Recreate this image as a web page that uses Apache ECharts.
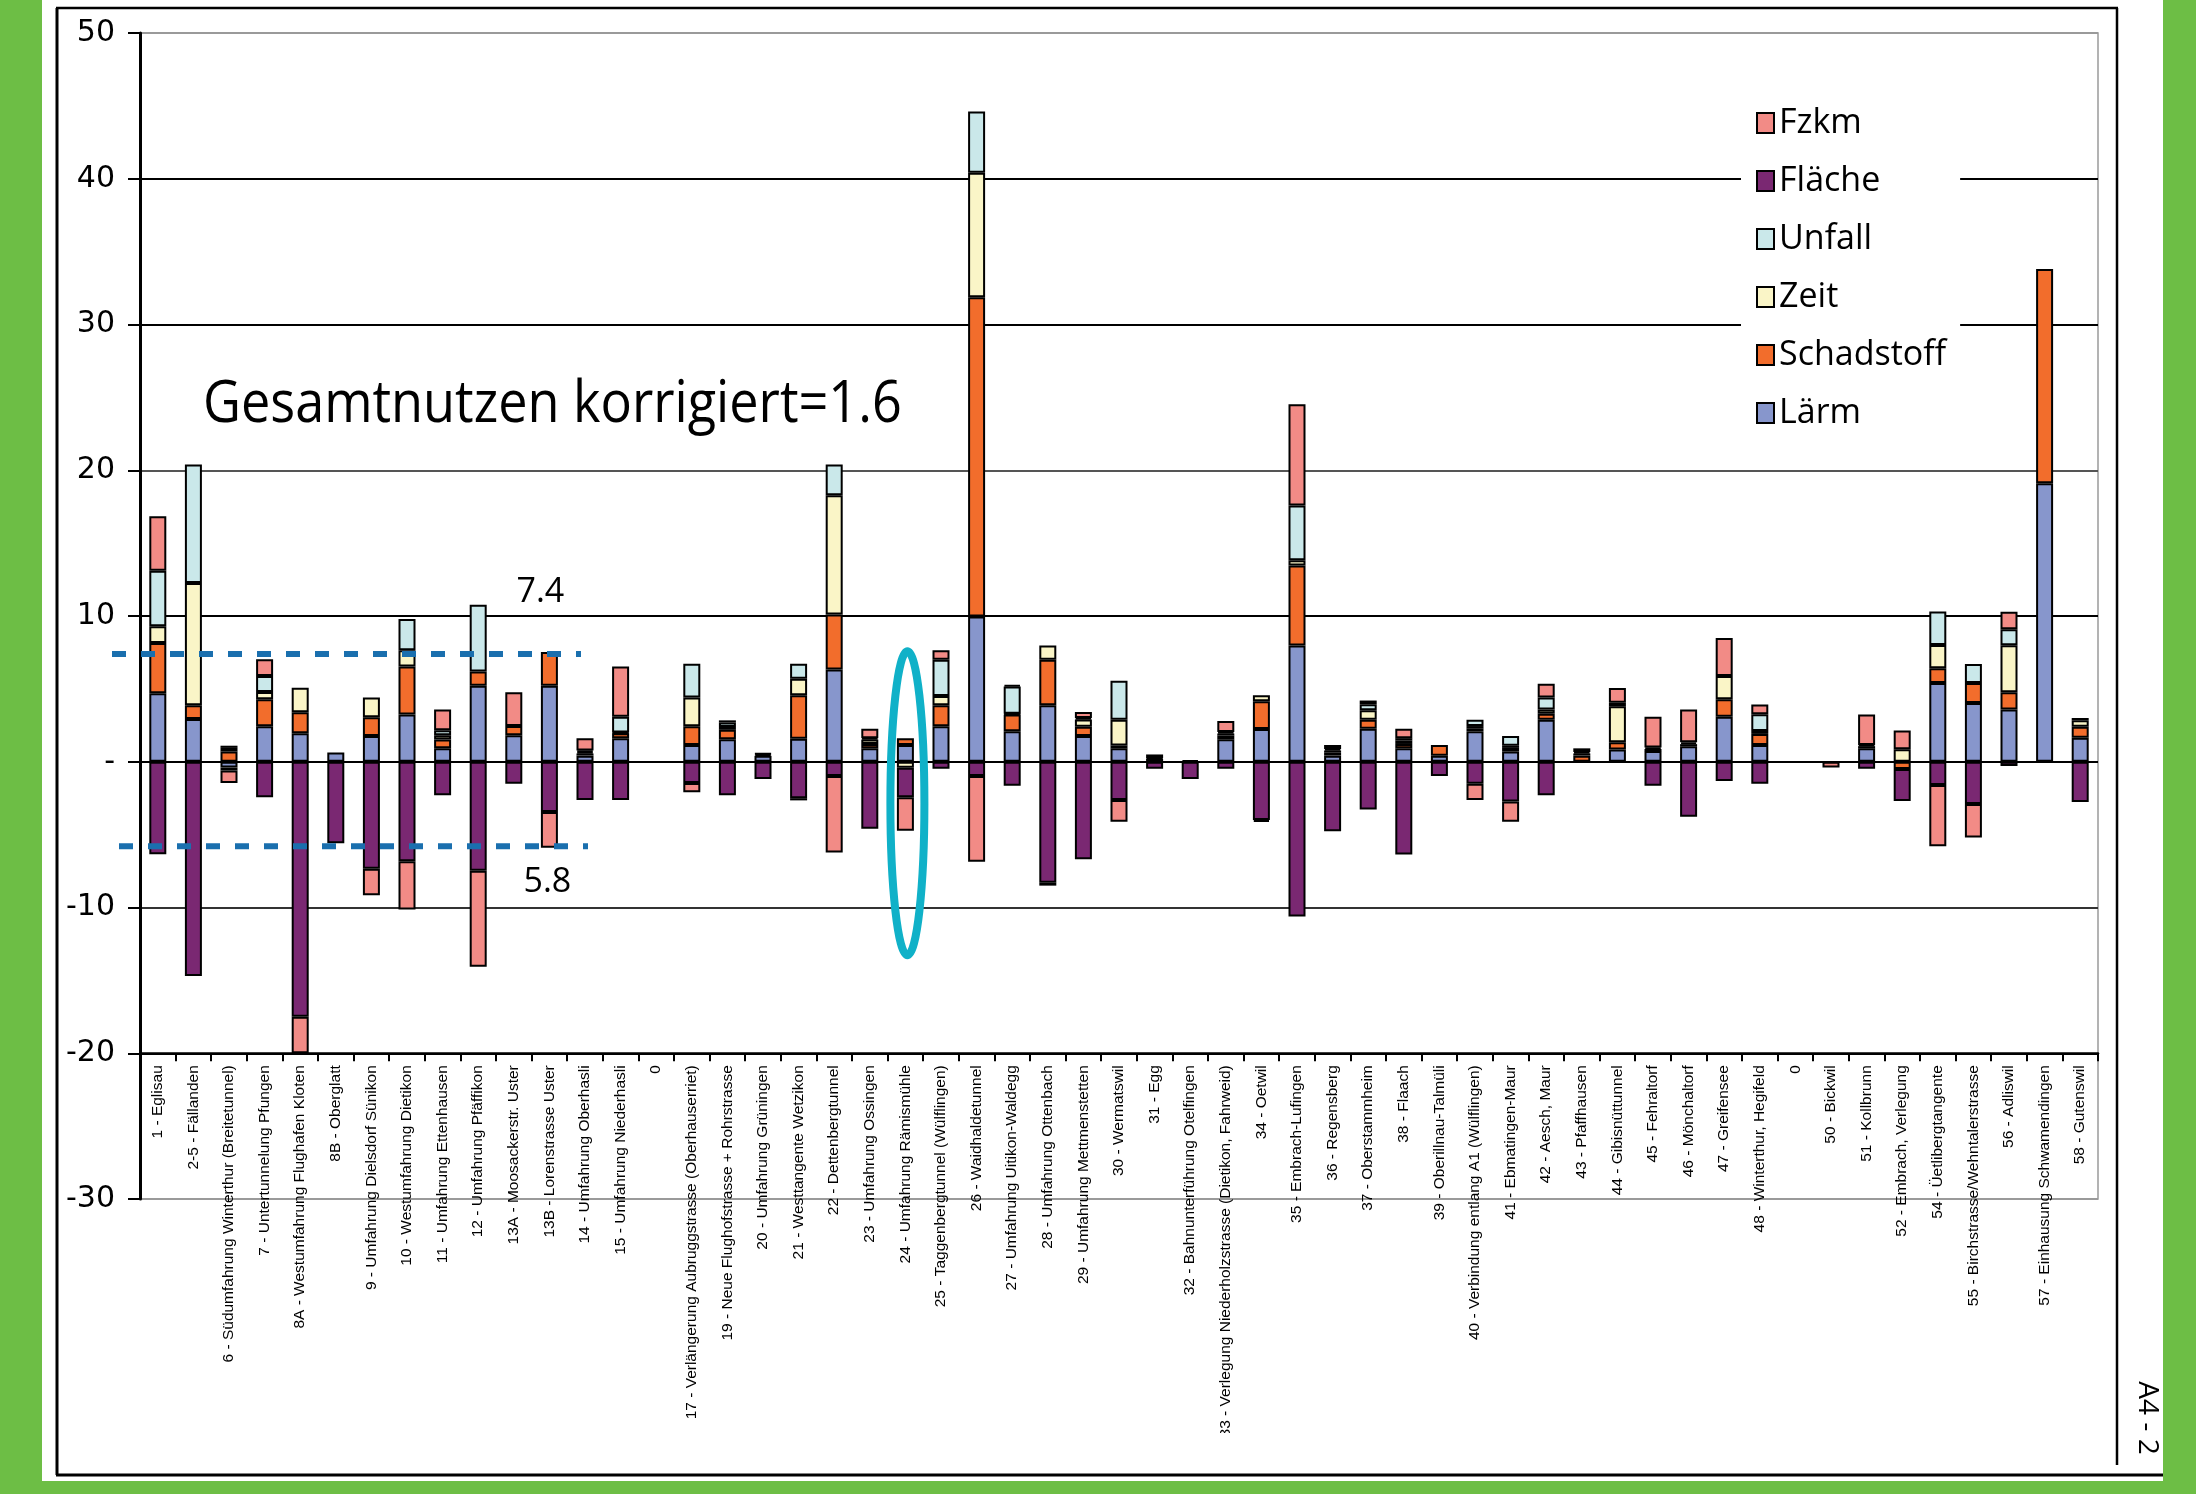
<!DOCTYPE html>
<html>
<head>
<meta charset="utf-8">
<script src="https://cdn.jsdelivr.net/npm/echarts/dist/echarts.min.js"></script>
<style>
html,body{margin:0;padding:0;background:#fff;}
#c{width:2196px;height:1494px;}
</style>
</head>
<body>
<div id="c"></div>
<script>
// ---------------- data ----------------
const categories = [
  '1 - Eglisau','2-5 - Fällanden','6 - Südumfahrung Winterthur (Breitetunnel)','7 - Untertunnelung Pfungen',
  '8A - Westumfahrung Flughafen Kloten','8B - Oberglatt','9 - Umfahrung Dielsdorf Sünikon','10 - Westumfahrung Dietikon',
  '11 - Umfahrung Ettenhausen','12 - Umfahrung Pfäffikon','13A - Moosackerstr. Uster','13B - Lorenstrasse Uster',
  '14 - Umfahrung Oberhasli','15 - Umfahrung Niederhasli','0','17 - Verlängerung Aubruggstrasse (Oberhauserriet)',
  '19 - Neue Flughofstrasse + Rohrstrasse','20 - Umfahrung Grüningen','21 - Westtangente Wetzikon','22 - Dettenbergtunnel',
  '23 - Umfahrung Ossingen','24 - Umfahrung Rämismühle','25 - Taggenbergtunnel (Wülflingen)','26 - Waidhaldetunnel',
  '27 - Umfahrung Uitikon-Waldegg','28 - Umfahrung Ottenbach','29 - Umfahrung Mettmenstetten','30 - Wermatswil',
  '31 - Egg','32 - Bahnunterführung Otelfingen','33 - Verlegung Niederholzstrasse (Dietikon, Fahrweid)','34 - Oetwil',
  '35 - Embrach-Lufingen','36 - Regensberg','37 - Oberstammheim','38 - Flaach','39 - Oberillnau-Talmüli',
  '40 - Verbindung entlang A1 (Wülflingen)','41 - Ebmatingen-Maur','42 - Aesch, Maur','43 - Pfaffhausen',
  '44 - Gibisnüttunnel','45 - Fehraltorf','46 - Mönchaltorf','47 - Greifensee','48 - Winterthur, Hegifeld','0',
  '50 - Bickwil','51 - Kollbrunn','52 - Embrach, Verlegung','54 - Üetlibergtangente','55 - Birchstrasse/Wehntalerstrasse',
  '56 - Adliswil','57 - Einhausung Schwamendingen','58 - Gutenswil'
];

const laerm = [4.7, 2.94, -0.4, 2.44, 1.96,  0.64, 1.76, 3.25, 0.92, 5.21,  1.82, 5.21, 0.42, 1.62, 0,
  1.15, 1.54, 0.42, 1.57, 6.33,  0.92, 1.15, 2.44, 9.97, 2.1,  3.87, 1.76, 0.92, 0.2, 0.1,
  1.54, 2.24, 7.98, 0.42, 2.27,  0.92, 0.42, 2.1, 0.7, 2.89,  0, 0.84, 0.73, 1.06, 3.08,
  1.15, 0, 0, 0.92, 0,  5.41, 4.03, 3.59, 19.1, 1.65];

const schadstoff = [3.45, 0.93, 0.7, 1.85, 1.43,  0, 1.29, 3.28, 0.6, 0.98,  0.64, 2.32, 0.15, 0.33, 0,
  1.29, 0.65, 0.1, 3.0, 3.78,  0.3, 0.47, 1.43, 21.9, 1.15,  3.13, 0.64, 0.2, 0, 0,
  0.25, 1.91, 5.49, 0.2, 0.62,  0.3, 0.73, 0.2, 0.25, 0.4,  0.42, 0.5, 0.15, 0.15, 1.21,
  0.76, 0, 0, 0.15, -0.5,  1.0, 1.38, 1.17, 14.7, 0.75];

const zeit = [1.15, 8.4, 0.25, 0.5, 1.68,  0, 1.35, 1.12, 0.3, 0,  0, 0, 0.1, 0.05, 0,
  1.96, 0.2, 0.05, 1.12, 8.18,  0.3, -0.42, 0.64, 8.55, 0.05,  0.98, 0.5, 1.77, 0.05, 0,
  0.15, 0.42, 0.35, 0.15, 0.64,  0.25, 0, 0.15, 0.15, 0.3,  0.15, 2.46, 0.1, 0.13, 1.59,
  0.2, 0, 0, 0.08, 0.85,  1.6, 0, 3.24, 0, 0.45];

const unfall = [3.8, 8.12, 0.15, 1.09, 0,  0, 0, 2.15, 0.34, 4.59,  0, 0, 0.1, 1.08, 0,
  2.32, 0.3, 0, 1.03, 2.1,  0.1, 0, 2.49, 4.19, 1.86,  0, 0.1, 2.66, 0.25, 0,
  0.1, 0, 3.77, 0.1, 0.42,  0.15, 0, 0.43, 0.66, 0.81,  0.1, 0.25, 0, 0, 0,
  1.15, 0, 0, 0, 0,  2.3, 1.3, 1.09, 0, 0.15];

const flaeche = [-6.35, -14.7, -0.2, -2.44, -17.5,  -5.6, -7.34, -6.83, -2.3, -7.48,  -1.51, -3.45, -2.63, -2.63, 0,
  -1.46, -2.3, -1.18, -2.5, -0.98,  -4.6, -2.02, -0.48, -0.98, -1.65,  -8.3, -6.69, -2.63, -0.48, -1.18,
  -0.48, -4.0, -10.62, -4.76, -3.28,  -6.36, -0.98, -1.51, -2.72, -2.3,  0, 0, -1.65, -3.78, -1.32,
  -1.51, 0, 0, -0.48, -2.2,  -1.6, -2.9, -0.3, 0, -2.77];

const fzkm = [3.75, 0, -0.85, 1.15, -2.5,  0, -1.82, -3.3, 1.43, -6.58,  2.3, -2.45, 0.85, 3.45, 0,
  -0.64, 0.15, 0, -0.15, -5.24,  0.65, -2.3, 0.65, -5.88, 0.1,  -0.2, 0.42, -1.49, 0, 0,
  0.76, -0.12, 6.93, 0.28, 0.25,  0.65, 0, -1.12, -1.4, 0.95,  0.25, 1.01, 2.1, 2.25, 2.61,
  0.67, 0, -0.4, 2.1, 1.3,  -4.2, -2.3, 1.21, 0, 0];

const legendOrder = ['Fzkm', 'Fläche', 'Unfall', 'Zeit', 'Schadstoff', 'Lärm'];
const yMin = -30, yMax = 50, yStep = 10;
const titleText = 'Gesamtnutzen korrigiert=1.6';
const refUpper = 7.4, refLower = -5.8;
const refUpperLabel = '7.4', refLowerLabel = '5.8';

// ---------------- chart ----------------
const seriesDefs = [
  { name: 'Lärm',       data: laerm,      color: '#8796CC' },
  { name: 'Schadstoff', data: schadstoff, color: '#F26D2C' },
  { name: 'Zeit',       data: zeit,       color: '#FAF5C7' },
  { name: 'Unfall',     data: unfall,     color: '#CAE8EA' },
  { name: 'Fläche',     data: flaeche,    color: '#7A2872' },
  { name: 'Fzkm',       data: fzkm,       color: '#F28B86' }
];

const W = 2196, H = 1494;
const G = { left: 140, top: 33, right: 98, bottom: 295 };
const gridH = H - G.top - G.bottom;
const xAxisOffset = -gridH * ((-20 - yMin) / (yMax - yMin)); // axis line sits at value -20

const chart = echarts.init(document.getElementById('c'), null, { renderer: 'canvas', width: W, height: H });

const option = {
  backgroundColor: '#ffffff',
  animation: false,
  grid: {
    left: G.left, top: G.top, right: G.right, bottom: G.bottom,
    show: true, borderColor: '#9a9a9a', borderWidth: 1.5,
    outerBoundsMode: 'none', containLabel: false
  },
  legend: {
    orient: 'vertical',
    left: 1741, top: 95,
    padding: [8, 14, 8, 15],
    itemWidth: 17, itemHeight: 20, itemGap: 18,
    backgroundColor: '#ffffff',
    selectedMode: false,
    icon: 'rect',
    textStyle: { fontFamily: 'Open Sans', fontSize: 34, lineHeight: 40, color: '#000' },
    data: legendOrder
  },
  xAxis: {
    type: 'category',
    data: categories,
    offset: xAxisOffset,
    axisLine: { show: true, onZero: false, lineStyle: { color: '#000', width: 2.5 } },
    axisTick: { show: true, length: 8, lineStyle: { color: '#000', width: 2 } },
    axisLabel: {
      interval: 0, rotate: 90, margin: 12,
      fontFamily: 'Liberation Sans', fontSize: 15.5, color: '#000'
    },
    splitLine: { show: false }
  },
  yAxis: {
    type: 'value', min: yMin, max: yMax, interval: yStep,
    axisLine: { show: true, lineStyle: { color: '#000', width: 3 } },
    axisTick: { show: true, length: 12, lineStyle: { color: '#000', width: 2 } },
    axisLabel: {
      margin: 25, fontFamily: 'DejaVu Sans', fontSize: 30, color: '#000',
      formatter: v => (v === 0 ? '-' : String(v))
    },
    splitLine: {
      show: true,
      lineStyle: { width: 2, color: ['#9a9a9a', '#000', '#333', '#000', '#000', '#555', '#000', '#000', '#9a9a9a'] }
    }
  },
  series: seriesDefs.map(s => ({
    name: s.name,
    type: 'bar',
    stack: 'all',
    barWidth: 17,
    data: s.data.map(v => (v === 0 ? '-' : v)),
    itemStyle: { color: s.color, borderColor: '#000', borderWidth: 2 },
    emphasis: { disabled: true }
  }))
};

chart.setOption(option);

// ---------------- annotations ----------------
const px = (xi, yv) => chart.convertToPixel({ xAxisIndex: 0, yAxisIndex: 0 }, [xi, yv]);
const yUp = px(0, refUpper)[1];
const yLo = px(0, refLower)[1];
const xCat12 = px(12, 0)[0];
const xCat11 = px(11, 0)[0];
const ell = px(21, -2.85);

const green = '#6DBE45';
const dashBlue = '#1A6FAE';

chart.setOption({
  graphic: [
    // page decoration: green margins and black frame
    { type: 'rect', z: 0, shape: { x: 0, y: 0, width: 42, height: H }, style: { fill: green } },
    { type: 'rect', z: 0, shape: { x: 0, y: 1481, width: W, height: H - 1481 }, style: { fill: green } },
    { type: 'rect', z: 0, shape: { x: 2163, y: 0, width: W - 2163, height: H }, style: { fill: green } },
    { type: 'line', z: 1, shape: { x1: 57, y1: 8, x2: 57, y2: 1475 }, style: { stroke: '#000', lineWidth: 3 } },
    { type: 'line', z: 1, shape: { x1: 56, y1: 8, x2: 2118, y2: 8 }, style: { stroke: '#000', lineWidth: 2.5 } },
    { type: 'line', z: 1, shape: { x1: 2117, y1: 8, x2: 2117, y2: 1465 }, style: { stroke: '#000', lineWidth: 2.5 } },
    { type: 'line', z: 1, shape: { x1: 56, y1: 1475, x2: 2163, y2: 1475 }, style: { stroke: '#000', lineWidth: 3 } },
    { type: 'text', z: 5, x: 2147, y: 1418, rotation: -Math.PI / 2,
      style: { text: 'A4 - 2', font: '28px "Open Sans"', fill: '#000', align: 'center', verticalAlign: 'middle' } },
    // clip the bottom of the longest axis label
    { type: 'rect', z: 100, shape: { x: G.left, y: 1433, width: W - G.left - G.right, height: 38 }, style: { fill: '#fff' } },
    // title
    { type: 'text', z: 20, x: 203, y: 405, scaleX: 0.9, originX: 0, originY: 0,
      style: { text: titleText, font: '58px "Open Sans"', fill: '#000', align: 'left', verticalAlign: 'middle' } },
    // dashed reference lines
    { type: 'line', z: 20, shape: { x1: G.left - 28, y1: yUp, x2: xCat12 - 4, y2: yUp },
      style: { stroke: dashBlue, lineWidth: 6, lineDash: [14, 15] } },
    { type: 'line', z: 20, shape: { x1: G.left - 21, y1: yLo, x2: xCat12 + 3, y2: yLo },
      style: { stroke: dashBlue, lineWidth: 6, lineDash: [14, 15] } },
    { type: 'text', z: 20, x: xCat11 - 9, y: px(0, 11.6)[1],
      style: { text: refUpperLabel, font: '34px "Open Sans"', fill: '#000', align: 'center', verticalAlign: 'middle' } },
    { type: 'text', z: 20, x: xCat11 - 2, y: px(0, -8.3)[1],
      style: { text: refLowerLabel, font: '34px "Open Sans"', fill: '#000', align: 'center', verticalAlign: 'middle' } },
    // highlight ellipse
    { type: 'ellipse', z: 20, shape: { cx: ell[0] + 2, cy: ell[1], rx: 17, ry: 152 },
      style: { fill: 'none', stroke: '#10B1C8', lineWidth: 8 } }
  ]
});
</script>
</body>
</html>
